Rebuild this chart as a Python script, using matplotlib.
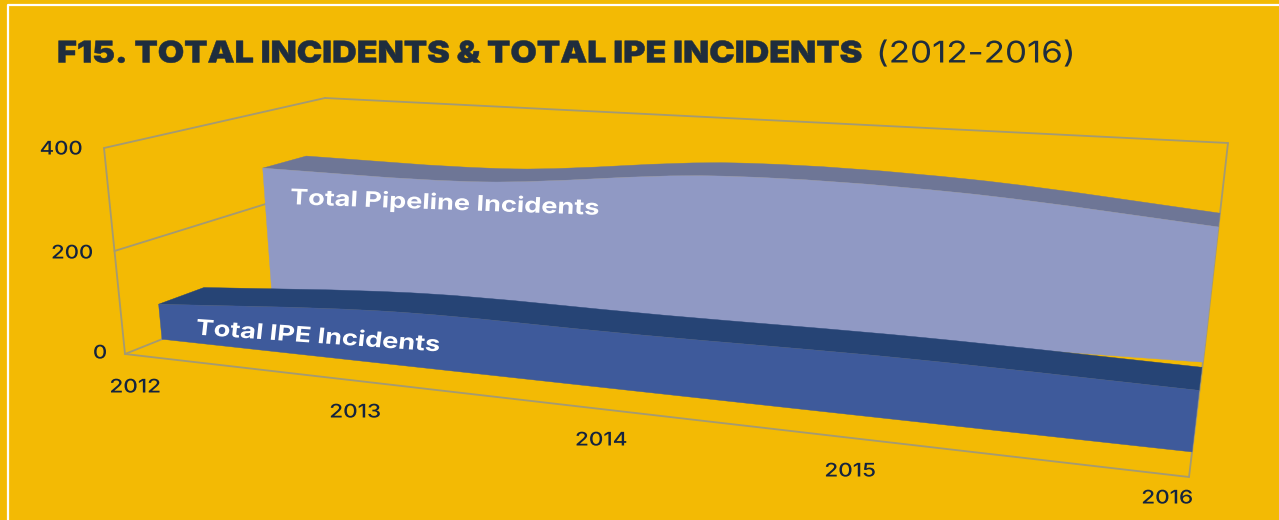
import numpy as np
import matplotlib
matplotlib.use('Agg')
import matplotlib.pyplot as plt
from matplotlib.path import Path
from matplotlib.patches import PathPatch
from matplotlib.patheffects import AbstractPathEffect
from matplotlib.transforms import Affine2D

# data
years = [2012, 2013, 2014, 2015, 2016]
pipeline = [279, 276, 314, 304, 261]
ipe = [70, 102, 105, 110, 105]
value_ticks = [0, 200, 400]

BG = '#F3BA04'
NAVY = '#14233F'
GRID = '#A39A74'

# depth of each ribbon face as (left end, right end), 0 = front of box, 1 = back
IPE_Z = ((0.176, 0.19), (0.39, 0.38))
PIPE_Z = ((0.70, 0.87), (0.90, 1.0))

# box corners in the picture, indexed [x end][value end][depth end]
CORNERS = np.array([[[(125, 354), (335, 270)], [(104, 148), (325, 98)]],
                    [[(1189, 477), (1205, 345)], [(1217, 235), (1228, 143)]]], float)
# far side of the box looks smaller, so the years bunch up to the left
X_WARP = 1.16


def project(year, value, z_left, z_right=None):
    z_right = z_left if z_right is None else z_right
    x = (np.asarray(year, float) - years[0]) / (years[-1] - years[0])
    x = x / (x + X_WARP * (1 - x))
    v = np.asarray(value, float) / value_ticks[-1]
    z = z_left + (z_right - z_left) * x
    out = np.zeros((len(x), 2))
    for i, wx in enumerate([1 - x, x]):
        for j, wv in enumerate([1 - v, v]):
            for k, wz in enumerate([1 - z, z]):
                out += (wx * wv * wz)[:, None] * CORNERS[i, j, k]
    return out


class Widen(AbstractPathEffect):
    # stretches text sideways about x0, the reference has a much wider font
    def __init__(self, sx, x0, stroke=0.0):
        super().__init__()
        self.sx, self.x0, self.stroke = sx, x0, stroke

    def draw_path(self, renderer, gc, tpath, affine, rgbFace=None):
        t = affine + Affine2D().translate(-self.x0, 0).scale(self.sx, 1).translate(self.x0, 0)
        gc0 = renderer.new_gc()
        gc0.copy_properties(gc)
        gc0.set_linewidth(self.stroke)
        gc0.set_foreground(rgbFace)
        renderer.draw_path(gc0, tpath, t, rgbFace)
        gc0.restore()


def smooth_segments(pts):
    # bezier handles so the edge runs smooth through the data points
    handles = []
    n = len(pts)
    for i in range(n - 1):
        a = pts[max(i - 1, 0)]
        b = pts[i]
        c = pts[i + 1]
        d = pts[min(i + 2, n - 1)]
        handles += [b + (c - a) / 6, c - (d - b) / 6, c]
    return handles


def ribbon(ax, values, z_faces, face, top, zorder):
    base = np.zeros(len(years))
    front = project(years, values, *z_faces[0])
    back = project(years, values, *z_faces[1])
    floor = project(years, base, *z_faces[0])

    # top strip
    verts = [front[0]] + smooth_segments(front) + [back[-1]] + smooth_segments(back[::-1]) + [front[0]]
    codes = [Path.MOVETO] + [Path.CURVE4] * (3 * (len(years) - 1)) + [Path.LINETO] \
        + [Path.CURVE4] * (3 * (len(years) - 1)) + [Path.CLOSEPOLY]
    ax.add_patch(PathPatch(Path(verts, codes), facecolor=top, edgecolor=top, lw=0.3, zorder=zorder))

    # front face
    verts = [front[0]] + smooth_segments(front) + [floor[-1], floor[0], front[0]]
    codes = [Path.MOVETO] + [Path.CURVE4] * (3 * (len(years) - 1)) + [Path.LINETO, Path.LINETO, Path.CLOSEPOLY]
    ax.add_patch(PathPatch(Path(verts, codes), facecolor=face, edgecolor=face, lw=0.3, zorder=zorder))


def box_line(ax, a, b):
    pts = np.vstack([project([a[0]], [a[1]], a[2]), project([b[0]], [b[1]], b[2])])
    ax.plot(pts[:, 0], pts[:, 1], color=GRID, lw=1.3, solid_capstyle='round', zorder=2)


fig = plt.figure(figsize=(12.79, 5.2), dpi=100, facecolor=BG)
ax = fig.add_axes([0, 0, 1, 1])
ax.set_xlim(0, 1279)
ax.set_ylim(520, 0)
ax.axis('off')

# white frame, open on the right and bottom
ax.plot([8, 8, 1279], [520, 5, 5], color='white', lw=1.6)

y0, y1 = years[0], years[-1]
top = value_ticks[-1]
for v in value_ticks:
    box_line(ax, (y0, v, 0), (y0, v, 1))
box_line(ax, (y0, 0, 0), (y0, top, 0))
box_line(ax, (y0, top, 1), (y1, top, 1))
box_line(ax, (y1, 0, 1), (y1, top, 1))
box_line(ax, (y1, 0, 0), (y1, 0, 1))
box_line(ax, (y0, 0, 0), (y1, 0, 0))

ribbon(ax, pipeline, PIPE_Z, '#9099C4', '#6E7696', 3)
ribbon(ax, ipe, IPE_Z, '#3E5A9B', '#264475', 4)

# labels
font = ['Inter', 'DejaVu Sans']
t = ax.text(57, 54.5, 'F15. TOTAL INCIDENTS & TOTAL IPE INCIDENTS', family=font, weight='black',
            fontsize=21.5, color='#1F2D3D', va='center', ha='left')
t.set_path_effects([Widen(1.14, 57, stroke=0.35)])
t = ax.text(876, 54.5, '(2012-2016)', family=font, weight='normal',
            fontsize=21.5, color='#1F2D3D', va='center', ha='left')
t.set_path_effects([Widen(1.17, 876)])

value_pos = [(100, 354), (72, 254), (61, 150)]
for v, (px, py) in zip(value_ticks, value_pos):
    t = ax.text(px, py, str(v), family=font, fontsize=13.5, color=NAVY, ha='center', va='center', weight='medium')
    t.set_path_effects([Widen(1.18, px)])

year_pos = [(135, 388), (355, 413), (601, 441), (850, 472), (1167, 499)]
for yr, (px, py) in zip(years, year_pos):
    t = ax.text(px, py, str(yr), family=font, fontsize=13.5, color=NAVY, ha='center', va='center', weight='medium')
    t.set_path_effects([Widen(1.2, px)])

t = ax.text(445, 203, 'Total Pipeline Incidents', family=font, weight='bold', fontsize=15.5, color='white',
            rotation=-2.5, rotation_mode='anchor', ha='center', va='center', zorder=6)
t.set_path_effects([Widen(1.26, 445)])
t = ax.text(318, 337, 'Total IPE Incidents', family=font, weight='bold', fontsize=15.5, color='white',
            rotation=-5, rotation_mode='anchor', ha='center', va='center', zorder=6)
t.set_path_effects([Widen(1.26, 318)])

fig.savefig('out.png', dpi=100, facecolor=BG)
